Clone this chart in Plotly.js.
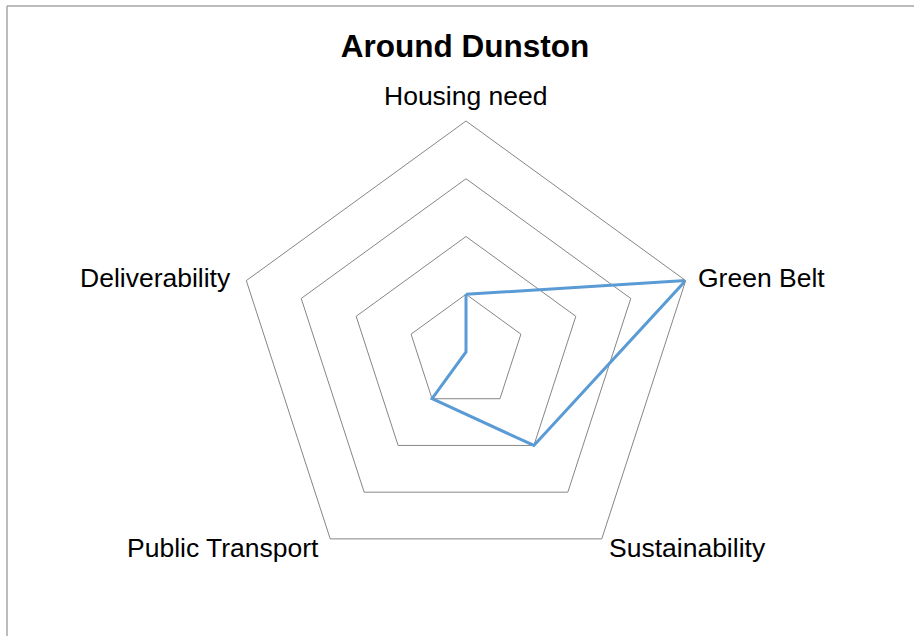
<!DOCTYPE html>
<html>
<head>
<meta charset="utf-8">
<script src="https://cdn.plot.ly/plotly-3.0.1.min.js"></script>
<style>
html,body{margin:0;padding:0;background:#fff;}
#chart{width:914px;height:636px;}
</style>
</head>
<body>
<div id="chart"></div>
<script>
const categories = ["Housing need", "Green Belt", "Sustainability", "Public Transport", "Deliverability"];
const values = [1, 4, 2, 1, 0];
const chartTitle = "Around Dunston";
const radialTicks = [0, 1, 2, 3, 4];
const radialMax = 4;

const W = 914, H = 636;
const cx = 466, cy = 352, R = 231;
const FONT = 'Liberation Sans, Arial, sans-serif';

const trace = {
  type: 'scatterpolar',
  r: values.concat([values[0]]),
  theta: categories.concat([categories[0]]),
  mode: 'lines',
  line: {color: '#5B9BD5', width: 3},
  hoverinfo: 'r+theta',
  showlegend: false
};

// category labels placed at the outer ring vertex of each category (derived from the axis geometry)
const labelStyle = [
  {xanchor: 'center', yanchor: 'middle', dx: 0, dy: -25},
  {xanchor: 'left', yanchor: 'middle', dx: 10, dy: -3},
  {xanchor: 'left', yanchor: 'middle', dx: 5, dy: 9},
  {xanchor: 'right', yanchor: 'middle', dx: -9, dy: 9},
  {xanchor: 'right', yanchor: 'middle', dx: -13, dy: -3}
];
const annotations = categories.map((c, i) => {
  const ang = (90 - 360 * i / categories.length) * Math.PI / 180;
  const px = cx + R * Math.cos(ang), py = cy - R * Math.sin(ang);
  const s = labelStyle[i];
  return {
    text: c, showarrow: false, xref: 'paper', yref: 'paper',
    x: px / W, y: 1 - py / H, xanchor: s.xanchor, yanchor: s.yanchor,
    xshift: s.dx, yshift: -s.dy,
    font: {size: 26.5, family: FONT, color: '#000'}
  };
});

const layout = {
  width: W, height: H,
  margin: {l: 0, r: 0, t: 0, b: 0},
  paper_bgcolor: '#ffffff',
  font: {family: FONT, color: '#000000'},
  title: {
    text: '<b>' + chartTitle + '</b>',
    font: {size: 31.5, family: FONT, color: '#000'},
    x: 465 / W, xanchor: 'center',
    y: 1 - 46 / H, yanchor: 'middle'
  },
  polar: {
    domain: {x: [(cx - R) / W, (cx + R) / W], y: [1 - (cy + R) / H, 1 - (cy - R) / H]},
    gridshape: 'linear',
    bgcolor: 'rgba(0,0,0,0)',
    radialaxis: {
      range: [0, radialMax],
      tickvals: radialTicks,
      showticklabels: false,
      ticks: '',
      showline: false,
      showgrid: true,
      gridcolor: '#868686',
      gridwidth: 1
    },
    angularaxis: {
      rotation: 90,
      direction: 'clockwise',
      showgrid: false,
      showline: true,
      linecolor: '#868686',
      linewidth: 1,
      ticks: '',
      showticklabels: false
    }
  },
  annotations: annotations,
  shapes: [
    {type: 'line', xref: 'paper', yref: 'paper', x0: 7 / W, x1: 7 / W, y0: 1 - 6 / H, y1: -0.05,
     line: {color: '#a6a6a6', width: 1.5}},
    {type: 'line', xref: 'paper', yref: 'paper', x0: 7 / W, x1: 1.05, y0: 1 - 6 / H, y1: 1 - 6 / H,
     line: {color: '#a6a6a6', width: 1.5}}
  ]
};

Plotly.newPlot('chart', [trace], layout, {displayModeBar: false, staticPlot: true});
</script>
</body>
</html>
